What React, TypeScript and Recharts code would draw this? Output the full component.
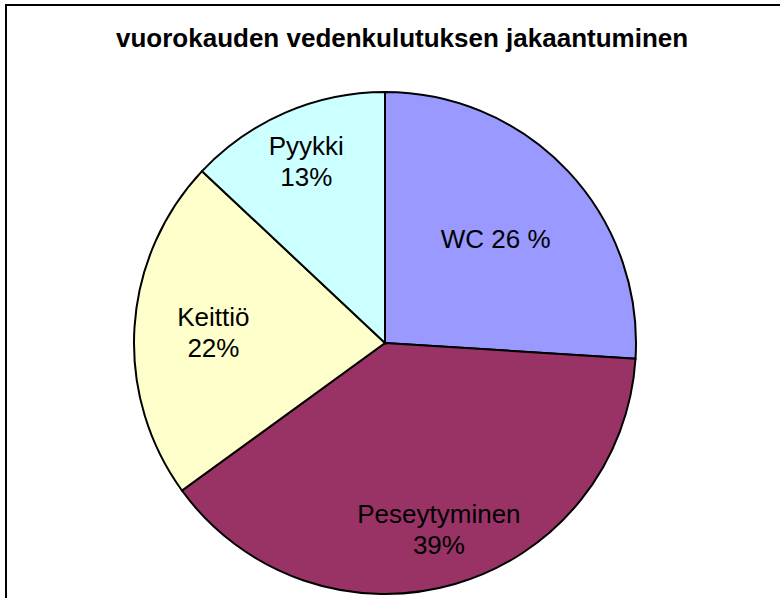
import React from "react";
import { PieChart, Pie, Cell } from "recharts";

const categories = ["WC", "Peseytyminen", "Keittiö", "Pyykki"];
const values = [26, 39, 22, 13];
const percentLabels = ["26 %", "39%", "22%", "13%"];
const colors = ["#9999FF", "#993366", "#FFFFCC", "#CCFFFF"];
const title = "vuorokauden vedenkulutuksen jakaantuminen";

const data = categories.map((name, i) => ({ name, value: values[i] }));

const FONT = "'Liberation Sans', Arial, sans-serif";
const RAD = Math.PI / 180;
const labelRadiusFactor = [0.605, 0.77, 0.685, 0.79];

const renderLabel = (props: any) => {
  const { cx, cy, midAngle, outerRadius, index } = props;
  const r = outerRadius * labelRadiusFactor[index];
  const x = cx + r * Math.cos(-midAngle * RAD);
  const y = cy + r * Math.sin(-midAngle * RAD);
  const name = categories[index];
  const pct = percentLabels[index];
  if (index === 0) {
    return (
      <text x={x} y={y + 9} textAnchor="middle" fontFamily={FONT} fontSize={26} fill="#000">
        {name + " " + pct}
      </text>
    );
  }
  return (
    <text x={x} y={y} textAnchor="middle" fontFamily={FONT} fontSize={26} fill="#000">
      <tspan x={x} y={y - 6}>{name}</tspan>
      <tspan x={x} y={y + 25}>{pct}</tspan>
    </text>
  );
};

export default function App() {
  return (
    <div style={{ position: "absolute", left: 0, top: 0, width: 780, height: 598, background: "#fff", overflow: "hidden" }}>
      <svg width={780} height={598} style={{ position: "absolute", left: 0, top: 0 }}>
        <line x1={6} y1={5} x2={780} y2={5} stroke="#000" strokeWidth={2} />
        <line x1={6} y1={4} x2={6} y2={598} stroke="#000" strokeWidth={2} />
        <text x={116} y={47} fontFamily={FONT} fontSize={26} fontWeight="bold" fill="#000">
          {title}
        </text>
      </svg>
      <div style={{ position: "absolute", left: 0, top: 0 }}>
        <PieChart width={780} height={598} margin={{ top: 0, right: 0, bottom: 0, left: 0 }}>
          <Pie
            data={data}
            dataKey="value"
            nameKey="name"
            cx={385}
            cy={343}
            outerRadius={251}
            startAngle={90}
            endAngle={-270}
            stroke="#000"
            strokeWidth={2}
            label={renderLabel}
            labelLine={false}
            isAnimationActive={false}
          >
            {data.map((d, i) => (
              <Cell key={d.name} fill={colors[i]} stroke="#000" strokeWidth={2} />
            ))}
          </Pie>
        </PieChart>
      </div>
    </div>
  );
}
